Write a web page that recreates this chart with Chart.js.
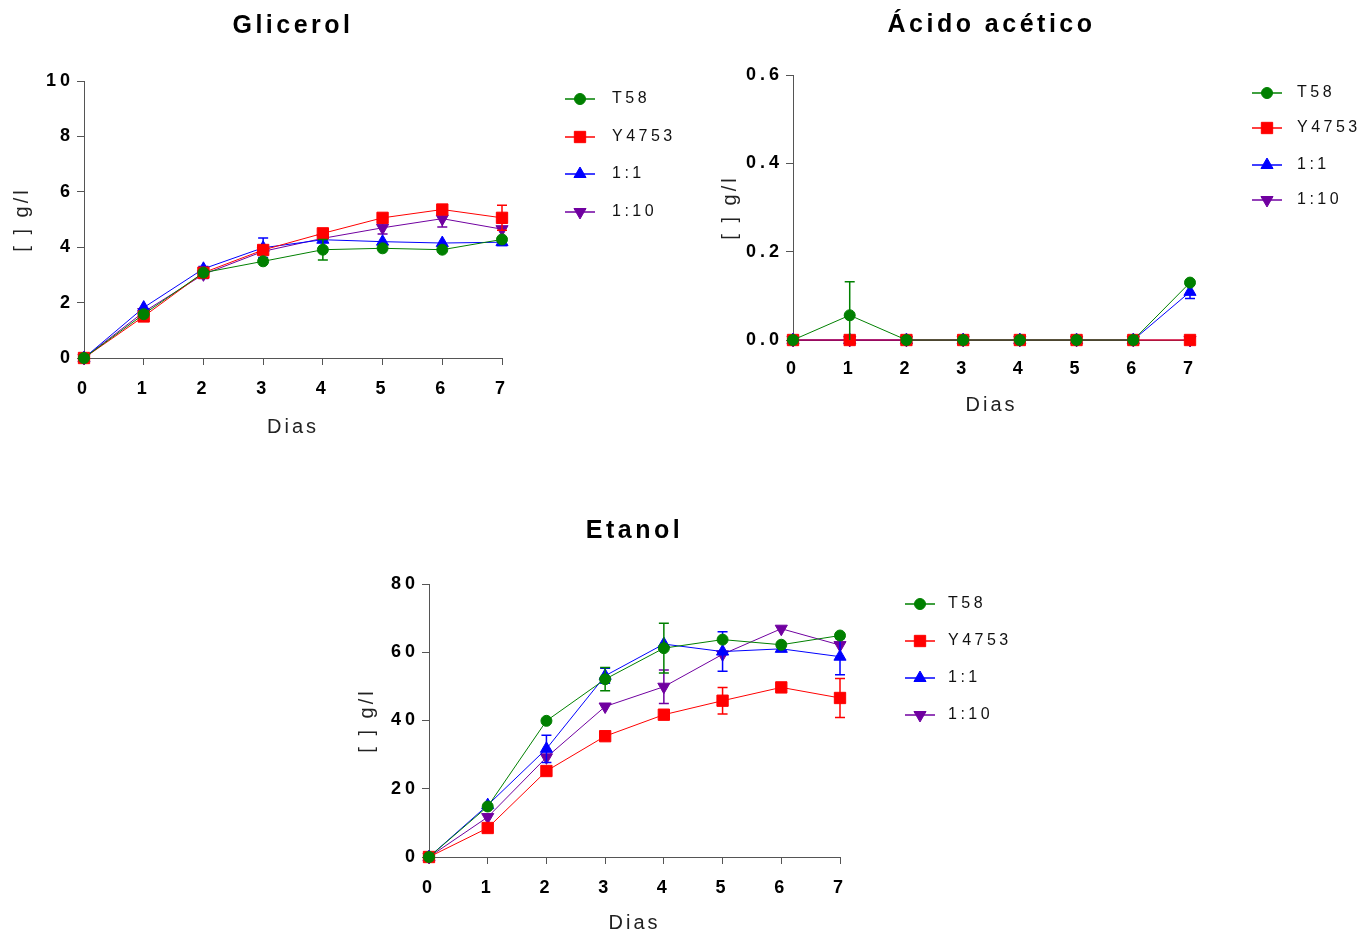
<!DOCTYPE html>
<html>
<head>
<meta charset="utf-8">
<title>Glicerol, ácido acético y etanol</title>
<script src="https://cdn.jsdelivr.net/npm/chart.js@4.4.1/dist/chart.umd.min.js"></script>
<style>
  html, body { margin: 0; padding: 0; background: #fff; }
  body { position: relative; width: 1372px; height: 938px; overflow: hidden; }
  canvas { position: absolute; }
</style>
</head>
<body>
<canvas id="glicerol" width="700" height="450" style="left:0;top:0"></canvas>
<canvas id="acetico" width="672" height="450" style="left:700px;top:0"></canvas>
<canvas id="etanol" width="700" height="458" style="left:340px;top:480px"></canvas>

<script>
// dias de fermentacion
const dias = ['0', '1', '2', '3', '4', '5', '6', '7'];
const cepas = ['T58', 'Y4753', '1:1', '1:10'];

// Glicerol (g/l), media y desviacion
const glicT58 = [0, 1.58, 3.08, 3.49, 3.91, 3.96, 3.91, 4.28];
const glicT58Err = [0, 0, 0, 0, 0.37, 0, 0, 0];
const glicY4753 = [0, 1.50, 3.08, 3.90, 4.50, 5.06, 5.36, 5.06];
const glicY4753Err = [0, 0, 0, 0, 0, 0, 0, 0.45];
const glic11 = [0, 1.82, 3.22, 3.98, 4.27, 4.20, 4.15, 4.18];
const glic11Err = [0, 0, 0.08, 0.35, 0, 0, 0, 0.12];
const glic110 = [0, 1.66, 3.02, 3.85, 4.32, 4.70, 5.03, 4.65];
const glic110Err = [0, 0, 0.15, 0, 0, 0.22, 0.30, 0];

// Acido acetico (g/l)
const acetT58 = [0, 0.056, 0, 0, 0, 0, 0, 0.13];
const acetT58Err = [0, 0.076, 0, 0, 0, 0, 0, 0];
const acetY4753 = [0, 0, 0, 0, 0, 0, 0, 0];
const acetY4753Err = [0, 0, 0, 0, 0, 0, 0, 0];
const acet11 = [0, 0, 0, 0, 0, 0, 0, 0.109];
const acet11Err = [0, 0, 0, 0, 0, 0, 0, 0.015];
const acet110 = [0, 0, 0, 0, 0, 0, 0, 0];
const acet110Err = [0, 0, 0, 0, 0, 0, 0, 0];

// Etanol (g/l)
const etanT58 = [0, 14.8, 39.9, 52.1, 61.2, 63.7, 62.2, 64.9];
const etanT58Err = [0, 0, 0, 3.4, 7.3, 0, 0, 0];
const etanY4753 = [0, 8.5, 25.2, 35.4, 41.7, 45.8, 49.7, 46.6];
const etanY4753Err = [0, 0, 0, 0, 0, 3.9, 0, 5.7];
const etan11 = [0, 15.2, 31.7, 53.1, 62.4, 60.2, 61.0, 58.7];
const etan11Err = [0, 0, 4.0, 2.2, 0, 5.8, 0, 5.3];
const etan110 = [0, 11.7, 29.2, 44.1, 49.9, 59.4, 66.9, 62.1];
const etan110Err = [0, 0, 0, 0, 4.9, 0, 0, 0];

const colores = ['#008000', '#ff0000', '#0000ff', '#7000a0'];
const marcadores = ['circle', 'rect', 'triangle', 'triangle'];
const rotaciones = [0, 0, 0, 180];
const radios = [5.5, 8, 7, 7];

const FUENTE = '"Liberation Sans", Arial, Helvetica, sans-serif';
Chart.defaults.font.family = FUENTE;

// espaciado entre letras segun el tamano de fuente
const espaciado = { 25: '3.5px', 20: '3px', 18: '4px', 16: '3.5px' };
const espaciadoPlugin = {
  id: 'espaciado',
  beforeDraw(chart) {
    const ctx = chart.ctx;
    if (ctx._fillTextOrig) return;
    ctx._fillTextOrig = ctx.fillText;
    ctx.fillText = function (text, x, y, maxWidth) {
      const m = /(\d+(?:\.\d+)?)px/.exec(this.font);
      this.letterSpacing = (m && espaciado[Math.round(+m[1])]) || '0px';
      return maxWidth === undefined
        ? this._fillTextOrig(text, x, y)
        : this._fillTextOrig(text, x, y, maxWidth);
    };
  }
};

// barras de error con remate, recortadas en el eje x
const barrasError = {
  id: 'barrasError',
  beforeDatasetDraw(chart, args) {
    const ds = chart.data.datasets[args.index];
    const errs = ds.errores;
    if (!errs) return;
    const yScale = chart.scales.y;
    const area = chart.chartArea;
    const ctx = chart.ctx;
    ctx.save();
    ctx.beginPath();
    ctx.rect(area.left - 20, area.top - 40, area.width + 40, area.height + 40);
    ctx.clip();
    ctx.strokeStyle = ds.borderColor;
    ctx.lineWidth = 1.5;
    args.meta.data.forEach((pt, i) => {
      const e = errs[i];
      if (!e) return;
      const v = ds.data[i];
      const yTop = yScale.getPixelForValue(v + e);
      const yBot = yScale.getPixelForValue(v - e);
      ctx.beginPath();
      ctx.moveTo(pt.x, yTop); ctx.lineTo(pt.x, yBot);
      ctx.moveTo(pt.x - 5, yTop); ctx.lineTo(pt.x + 5, yTop);
      ctx.moveTo(pt.x - 5, yBot); ctx.lineTo(pt.x + 5, yBot);
      ctx.stroke();
    });
    ctx.restore();
  }
};

function dibujarMarcador(ctx, estilo, rot, r, x, y, color) {
  ctx.fillStyle = color;
  ctx.strokeStyle = color;
  ctx.lineWidth = 1;
  ctx.beginPath();
  if (estilo === 'circle') {
    ctx.arc(x, y, r, 0, Math.PI * 2);
  } else if (estilo === 'rect') {
    const s = Math.SQRT1_2 * r;
    ctx.rect(x - s, y - s, 2 * s, 2 * s);
  } else {
    let a = rot * Math.PI / 180;
    ctx.moveTo(x + Math.sin(a) * r, y - Math.cos(a) * r);
    a += 2 * Math.PI / 3;
    ctx.lineTo(x + Math.sin(a) * r, y - Math.cos(a) * r);
    a += 2 * Math.PI / 3;
    ctx.lineTo(x + Math.sin(a) * r, y - Math.cos(a) * r);
    ctx.closePath();
  }
  ctx.fill();
  ctx.stroke();
}

// leyenda a la derecha: linea + marcador + nombre
const leyenda = {
  id: 'leyenda',
  afterDraw(chart, args, opts) {
    const ctx = chart.ctx;
    chart.data.datasets.forEach((ds, i) => {
      const y = opts.filas[i];
      ctx.save();
      ctx.strokeStyle = ds.borderColor;
      ctx.lineWidth = 1.5;
      ctx.beginPath();
      ctx.moveTo(opts.x, y);
      ctx.lineTo(opts.x + 30, y);
      ctx.stroke();
      dibujarMarcador(ctx, ds.pointStyle, ds.pointRotation, ds.pointRadius, opts.x + 15, y, ds.backgroundColor);
      ctx.fillStyle = '#111';
      ctx.font = '16px ' + FUENTE;
      ctx.textBaseline = 'middle';
      ctx.textAlign = 'left';
      ctx.fillText(ds.label, opts.textX, y);
      ctx.restore();
    });
  }
};

function serie(i, datos, errores) {
  return {
    label: cepas[i],
    data: datos,
    errores: errores,
    borderColor: colores[i],
    backgroundColor: colores[i],
    borderWidth: 1,
    pointStyle: marcadores[i],
    pointRotation: rotaciones[i],
    pointRadius: radios[i],
    pointBorderWidth: 1,
    pointHoverRadius: radios[i],
    tension: 0,
    clip: false
  };
}

function grafico(id, titulo, series, g) {
  return new Chart(document.getElementById(id), {
    type: 'line',
    data: { labels: dias, datasets: series },
    plugins: [espaciadoPlugin, barrasError, leyenda],
    options: {
      responsive: false,
      animation: false,
      events: [],
      layout: { padding: { left: 0, top: 0, bottom: 0, right: g.derecha } },
      plugins: {
        legend: { display: false },
        tooltip: { enabled: false },
        title: {
          display: true,
          text: titulo,
          fullSize: false,
          color: '#000',
          font: { size: 25, weight: 'bold' },
          padding: { top: g.tituloTop, bottom: g.tituloBottom }
        },
        leyenda: { x: g.leyX, textX: g.leyTexto, filas: g.filas }
      },
      scales: {
        x: {
          type: 'category',
          offset: false,
          afterFit: s => { s.height = g.altoX; },
          grid: { drawOnChartArea: false, drawTicks: true, tickLength: 7, color: '#555' },
          border: { color: '#555' },
          ticks: {
            color: '#000',
            font: { size: 18, weight: 'bold' },
            padding: g.padX,
            maxRotation: 0,
            autoSkip: false
          },
          title: {
            display: true,
            text: 'Dias',
            color: '#222',
            font: { size: 20 },
            padding: { top: 0, bottom: g.diasPad }
          }
        },
        y: {
          min: 0,
          max: g.yMax,
          afterFit: s => { s.width = g.anchoY; },
          grid: { drawOnChartArea: false, drawTicks: true, tickLength: 7, color: '#555' },
          border: { color: '#555' },
          ticks: {
            stepSize: g.paso,
            color: '#000',
            font: { size: 18, weight: 'bold' },
            padding: 3,
            callback: v => v.toFixed(g.decimales)
          },
          title: {
            display: true,
            text: '[ ] g/l',
            color: '#222',
            font: { size: 20 },
            padding: { top: g.tituloY, bottom: 0 }
          }
        }
      }
    }
  });
}

grafico('glicerol', 'Glicerol', [
  serie(0, glicT58, glicT58Err),
  serie(1, glicY4753, glicY4753Err),
  serie(2, glic11, glic11Err),
  serie(3, glic110, glic110Err)
], {
  derecha: 198, tituloTop: 11, tituloBottom: 40, altoX: 92, padX: 13, diasPad: 11,
  anchoY: 84, tituloY: 10, yMax: 10, paso: 2, decimales: 0,
  leyX: 565, leyTexto: 612, filas: [99, 137, 174, 212]
});

grafico('acetico', 'Ácido acético', [
  serie(0, acetT58, acetT58Err),
  serie(1, acetY4753, acetY4753Err),
  serie(2, acet11, acet11Err),
  serie(3, acet110, acet110Err)
], {
  derecha: 182, tituloTop: 10, tituloBottom: 35, altoX: 110, padX: 11, diasPad: 33,
  anchoY: 93, tituloY: 18, yMax: 0.6, paso: 0.2, decimales: 1,
  leyX: 552, leyTexto: 597, filas: [93, 128, 165, 200]
});

grafico('etanol', 'Etanol', [
  serie(0, etanT58, etanT58Err),
  serie(1, etanY4753, etanY4753Err),
  serie(2, etan11, etan11Err),
  serie(3, etan110, etan110Err)
], {
  derecha: 200, tituloTop: 36, tituloBottom: 38, altoX: 81, padX: 13, diasPad: 3,
  anchoY: 89, tituloY: 15, yMax: 80, paso: 20, decimales: 0,
  leyX: 565, leyTexto: 608, filas: [124, 161, 198, 235]
});
</script>
</body>
</html>
